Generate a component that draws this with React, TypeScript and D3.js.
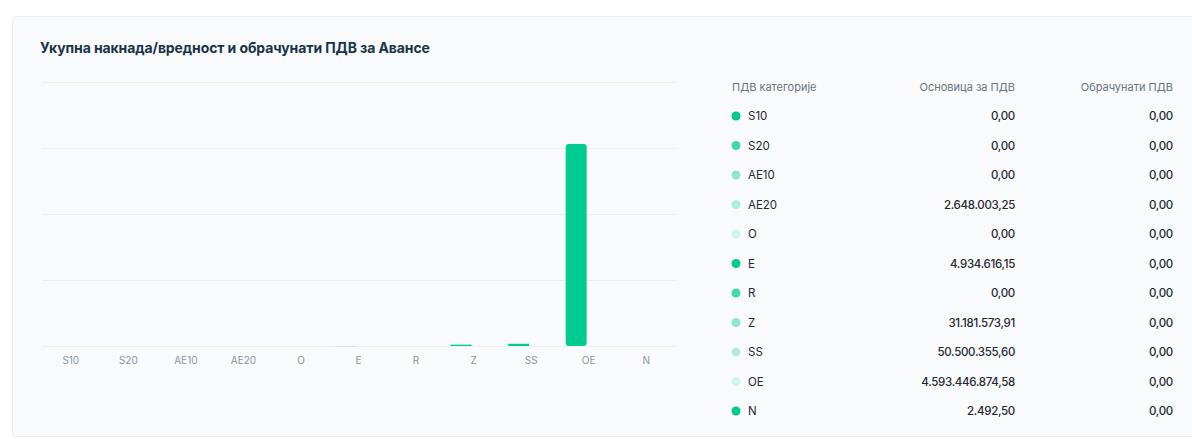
import React, { useRef, useEffect } from "react";
import * as d3 from "d3";

const title = "Укупна накнада/вредност и обрачунати ПДВ за Авансе";
const tableHeaders = ["ПДВ категорије", "Основица за ПДВ", "Обрачунати ПДВ"];
const categories = ["S10", "S20", "AE10", "AE20", "O", "E", "R", "Z", "SS", "OE", "N"];
const baseValues = [0, 0, 0, 2648003.25, 0, 4934616.15, 0, 31181573.91, 50500355.6, 4593446874.58, 2492.5];
const vatValues = [0, 0, 0, 0, 0, 0, 0, 0, 0, 0, 0];
const yTicks = [0, 1.5e9, 3e9, 4.5e9, 6e9];
const dotColors = ["#00c98e", "#40d8ac", "#8ee7cd", "#b0eedc", "#d2f5ea"];

const App = () => {
  const ref = useRef<SVGSVGElement>(null);

  useEffect(() => {
    const svg = d3.select(ref.current);
    svg.selectAll("*").remove();

    const width = 1192;
    const height = 439;
    const font = "Inter, 'DejaVu Sans', sans-serif";

    // card
    svg.append("rect").attr("width", width).attr("height", height).attr("fill", "#ffffff");
    svg
      .append("rect")
      .attr("x", 12.5)
      .attr("y", 16.5)
      .attr("width", 1190)
      .attr("height", 420)
      .attr("rx", 4)
      .attr("fill", "#f9fafb")
      .attr("stroke", "#eceef1");

    svg
      .append("text")
      .attr("x", 40)
      .attr("y", 53)
      .attr("font-family", font)
      .attr("font-size", 14)
      .attr("font-weight", 700)
      .attr("fill", "#1b3348")
      .attr("letter-spacing", -0.1)
      .text(title);

    // chart scales
    const x = d3.scaleBand().domain(categories).range([42, 675]);
    const y = d3.scaleLinear().domain([0, 6e9]).range([346, 82]);
    const sub = d3.scaleBand().domain(["base", "vat"]).range([0, 42]);
    const groupOffset = (x.bandwidth() - 42) / 2 - 2;

    svg
      .append("g")
      .selectAll("line")
      .data(yTicks)
      .enter()
      .append("line")
      .attr("x1", 42)
      .attr("x2", 675)
      .attr("y1", (d) => Math.round(y(d)) + 0.5)
      .attr("y2", (d) => Math.round(y(d)) + 0.5)
      .attr("stroke", "#eceef0");

    const xAxis = d3.axisBottom(x).tickSize(0).tickPadding(11);
    const gx = svg.append("g").attr("transform", `translate(0, ${y(0)})`).call(xAxis);
    gx.select(".domain").remove();
    gx.selectAll("text")
      .attr("font-family", font)
      .attr("font-size", 10)
      .attr("fill", "#8b95a1");

    const groups = categories.map((c, i) => ({ c, base: baseValues[i], vat: vatValues[i] }));
    const bars = svg.append("g");
    groups.forEach((g) => {
      (["base", "vat"] as const).forEach((k) => {
        const v = g[k];
        const h = y(0) - y(v);
        // bars thinner than a fraction of a pixel don't show up
        if (h < 0.15) return;
        const bx = (x(g.c) || 0) + groupOffset + (sub(k) || 0);
        bars
          .append("rect")
          .attr("x", bx)
          .attr("y", y(v))
          .attr("width", sub.bandwidth())
          .attr("height", Math.max(h, 0.6))
          .attr("rx", h > 8 ? 3 : 0)
          .attr("fill", "#00cc90")
          .attr("fill-opacity", h > 1 ? 1 : 0.25);
      });
    });

    // table
    const rowY = d3.scalePoint().domain(categories).range([116, 411]);
    const fmt = d3.formatLocale({ decimal: ",", thousands: ".", grouping: [3], currency: ["", ""] }).format(",.2f");
    const headerX = [732, 1015, 1173];
    const headerAnchor = ["start", "end", "end"];
    svg
      .append("g")
      .selectAll("text")
      .data(tableHeaders)
      .enter()
      .append("text")
      .attr("x", (_, i) => headerX[i])
      .attr("y", 91)
      .attr("text-anchor", (_, i) => headerAnchor[i])
      .attr("font-family", font)
      .attr("font-size", 11)
      .attr("fill", "#6b7480")
      .text((d) => d);

    const rows = svg
      .append("g")
      .selectAll("g")
      .data(groups)
      .enter()
      .append("g")
      .attr("transform", (d) => `translate(0, ${rowY(d.c)})`);
    rows
      .append("circle")
      .attr("cx", 736)
      .attr("cy", 0)
      .attr("r", 4.5)
      .attr("fill", (_, i) => dotColors[i % dotColors.length]);
    rows
      .append("text")
      .attr("x", 748)
      .attr("y", 4)
      .attr("font-family", font)
      .attr("font-size", 11.5)
      .attr("fill", "#1f2933")
      .text((d) => d.c);
    rows
      .append("text")
      .attr("x", 1015)
      .attr("y", 4)
      .attr("text-anchor", "end")
      .attr("font-family", font)
      .attr("font-size", 11.5)
      .attr("font-weight", 500)
      .attr("letter-spacing", -0.3)
      .attr("fill", "#1f2933")
      .text((d) => fmt(d.base));
    rows
      .append("text")
      .attr("x", 1173)
      .attr("y", 4)
      .attr("text-anchor", "end")
      .attr("font-family", font)
      .attr("font-size", 11.5)
      .attr("font-weight", 500)
      .attr("letter-spacing", -0.3)
      .attr("fill", "#1f2933")
      .text((d) => fmt(d.vat));
  }, []);

  return (
    <div style={{ position: "absolute", left: 0, top: 0 }}>
      <svg ref={ref} width={1192} height={439} style={{ display: "block" }} />
    </div>
  );
};

export default App;
